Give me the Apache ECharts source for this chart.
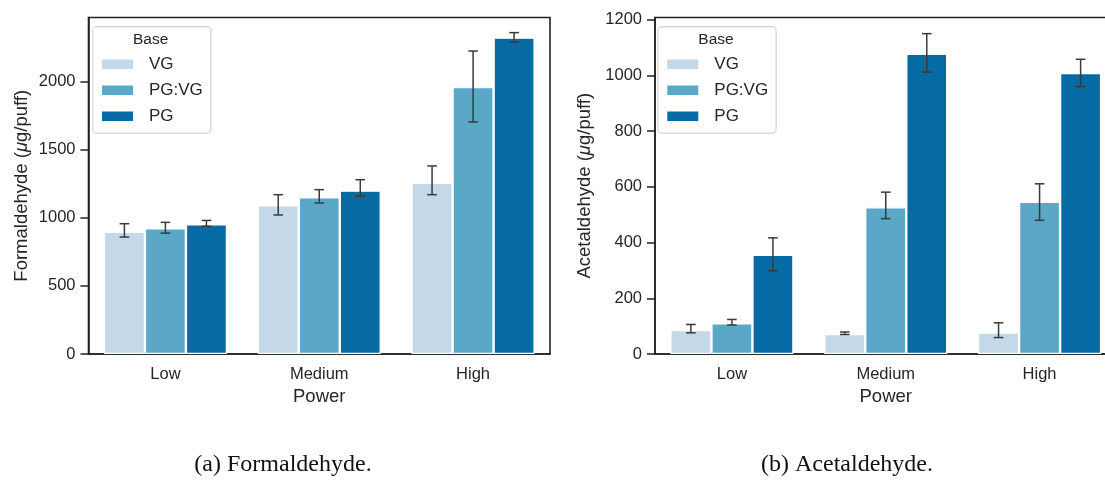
<!DOCTYPE html>
<html>
<head>
<meta charset="utf-8">
<script src="https://cdn.jsdelivr.net/npm/echarts@6/dist/echarts.min.js"></script>
<style>
html,body{margin:0;padding:0;background:#fff;}
#chart{width:1105px;height:486px;}
</style>
</head>
<body>
<div id="chart"></div>
<script>
// ---- data ----
var categories = ['Low', 'Medium', 'High'];
var seriesNames = ['VG', 'PG:VG', 'PG'];

// Formaldehyde (µg/puff)
var formVG      = [897, 1091, 1257];
var formPGVG    = [922, 1150, 1958];
var formPG      = [951, 1199, 2321];
var formLoVG    = [858, 1020, 1169];
var formHiVG    = [956, 1169, 1380];
var formLoPGVG  = [887, 1108, 1703];
var formHiPGVG  = [966, 1206, 2223];
var formLoPG    = [936, 1157, 2289];
var formHiPG    = [980, 1279, 2358];

// Acetaldehyde (µg/puff)
var acetVG      = [86, 72, 77];
var acetPGVG    = [110, 527, 546];
var acetPG      = [356, 1078, 1009];
var acetLoVG    = [76, 70, 59];
var acetHiVG    = [106, 79, 112];
var acetLoPGVG  = [104, 486, 480];
var acetHiPGVG  = [124, 581, 611];
var acetLoPG    = [299, 1012, 960];
var acetHiPG    = [417, 1150, 1058];

var formTicks = [0, 500, 1000, 1500, 2000];
var acetTicks = [0, 200, 400, 600, 800, 1000, 1200];

var colors = ['#c3d8e8', '#5aa7c7', '#066aa4'];

// ---- build ----
var textColor = '#262626';
var axisColor = '#222';
var fontSans = 'Liberation Sans, Arial, sans-serif';

function errData(lows, highs, sIdx) {
  return lows.map(function (lo, i) { return [i, lo, highs[i], sIdx]; });
}

function errRender(params, api) {
  var ci = api.value(0);
  var lo = api.value(1);
  var hi = api.value(2);
  var s = api.value(3);
  var band = api.size([1, 0])[0];
  var bw = band * 0.8 / 3;
  var center = api.coord([ci, 0])[0] + (s - 1) * bw;
  var pLo = api.coord([ci, lo])[1];
  var pHi = api.coord([ci, hi])[1];
  var cap = 4.8;
  var st = { stroke: '#3a3a3a', lineWidth: 1.5 };
  return {
    type: 'group',
    children: [
      { type: 'line', shape: { x1: center, y1: pLo, x2: center, y2: pHi }, style: st },
      { type: 'line', shape: { x1: center - cap, y1: pLo, x2: center + cap, y2: pLo }, style: st },
      { type: 'line', shape: { x1: center - cap, y1: pHi, x2: center + cap, y2: pHi }, style: st }
    ]
  };
}

function xAxisCfg(gi) {
  return {
    type: 'category', gridIndex: gi, data: categories,
    name: 'Power', nameLocation: 'middle', nameGap: 31,
    nameTextStyle: { fontSize: 18.5, color: textColor, fontFamily: fontSans },
    axisLine: { lineStyle: { color: axisColor, width: 1.6 } },
    axisTick: { alignWithLabel: true, length: 8, lineStyle: { color: axisColor, width: 1.5 } },
    axisLabel: { fontSize: 16.5, color: textColor, fontFamily: fontSans, margin: 12 },
    splitLine: { show: false }
  };
}

function yAxisCfg(gi, maxV, ticks, label, gap) {
  return {
    type: 'value', gridIndex: gi, min: 0, max: maxV,
    name: label, nameLocation: 'middle', nameGap: gap,
    nameTextStyle: {
      fontSize: 18.5, color: textColor, fontFamily: fontSans,
      rich: { i: { fontSize: 18.5, fontStyle: 'italic', color: textColor, fontFamily: fontSans } }
    },
    axisLine: { show: true, lineStyle: { color: axisColor, width: 1.6 } },
    axisTick: { show: true, length: 8, customValues: ticks, lineStyle: { color: axisColor, width: 1.5 } },
    axisLabel: {
      fontSize: 16.5, color: textColor, fontFamily: fontSans, margin: 13, customValues: ticks,
      formatter: function (v) { return String(v); }
    },
    splitLine: { show: false }
  };
}

function barSeries(name, data, gi, ci) {
  return {
    type: 'bar', name: name, data: data,
    xAxisIndex: gi, yAxisIndex: gi,
    barGap: '0%', barCategoryGap: '20%',
    itemStyle: { color: colors[ci], borderColor: '#fff', borderWidth: 1.2 },
    emphasis: { disabled: true },
    z: 2
  };
}

function errSeries(name, lows, highs, gi, sIdx) {
  return {
    type: 'custom', name: name + ' err',
    xAxisIndex: gi, yAxisIndex: gi,
    data: errData(lows, highs, sIdx),
    renderItem: errRender,
    encode: { x: 0, y: [1, 2] },
    z: 5, silent: true
  };
}

function legendCfg(left) {
  return {
    orient: 'vertical', left: left, top: 26.7,
    data: seriesNames,
    icon: 'rect', itemWidth: 33, itemHeight: 11.5, itemGap: 9,
    padding: [29, 8, 8.5, 7.3],
    backgroundColor: 'rgba(255,255,255,0.85)',
    borderColor: '#d4d4d4', borderWidth: 1.2, borderRadius: 4,
    textStyle: { fontSize: 17, lineHeight: 17, color: textColor, fontFamily: fontSans, padding: [0, 0, 0, 10] },
    selectedMode: false
  };
}

var option = {
  backgroundColor: '#fff',
  animation: false,
  grid: [
    { left: 88.5, top: 17.5, width: 461.5, height: 336.5, outerBoundsMode: 'none', containLabel: false, show: true, borderColor: axisColor, borderWidth: 1.6, backgroundColor: 'transparent' },
    { left: 655, top: 17.5, width: 461.5, height: 336.5, outerBoundsMode: 'none', containLabel: false, show: true, borderColor: axisColor, borderWidth: 1.6, backgroundColor: 'transparent' }
  ],
  xAxis: [xAxisCfg(0), xAxisCfg(1)],
  yAxis: [
    yAxisCfg(0, 2469, formTicks, 'Formaldehyde ({i|μ}g/puff)', 57),
    yAxisCfg(1, 1208, acetTicks, 'Acetaldehyde ({i|μ}g/puff)', 60.5)
  ],
  legend: [legendCfg(92.7), legendCfg(658)],
  series: [
    barSeries(seriesNames[0], formVG, 0, 0),
    barSeries(seriesNames[1], formPGVG, 0, 1),
    barSeries(seriesNames[2], formPG, 0, 2),
    errSeries(seriesNames[0], formLoVG, formHiVG, 0, 0),
    errSeries(seriesNames[1], formLoPGVG, formHiPGVG, 0, 1),
    errSeries(seriesNames[2], formLoPG, formHiPG, 0, 2),
    barSeries(seriesNames[0], acetVG, 1, 0),
    barSeries(seriesNames[1], acetPGVG, 1, 1),
    barSeries(seriesNames[2], acetPG, 1, 2),
    errSeries(seriesNames[0], acetLoVG, acetHiVG, 1, 0),
    errSeries(seriesNames[1], acetLoPGVG, acetHiPGVG, 1, 1),
    errSeries(seriesNames[2], acetLoPG, acetHiPG, 1, 2)
  ],
  graphic: [
    { type: 'text', x: 150.7, y: 40, z: 100, style: { text: 'Base', fontSize: 15.5, fill: textColor, fontFamily: fontSans, textAlign: 'center', textVerticalAlign: 'middle' } },
    { type: 'text', x: 716, y: 40, z: 100, style: { text: 'Base', fontSize: 15.5, fill: textColor, fontFamily: fontSans, textAlign: 'center', textVerticalAlign: 'middle' } },
    { type: 'text', x: 283, y: 465, style: { text: '(a) Formaldehyde.', fontSize: 24, fill: '#111', fontFamily: 'Liberation Serif, serif', textAlign: 'center', textVerticalAlign: 'middle', letterSpacing: 0.5 } },
    { type: 'text', x: 847, y: 465, style: { text: '(b) Acetaldehyde.', fontSize: 24, fill: '#111', fontFamily: 'Liberation Serif, serif', textAlign: 'center', textVerticalAlign: 'middle', letterSpacing: 0.5 } }
  ]
};

var chart = echarts.init(document.getElementById('chart'), null, { renderer: 'canvas' });
chart.setOption(option);
</script>
</body>
</html>
